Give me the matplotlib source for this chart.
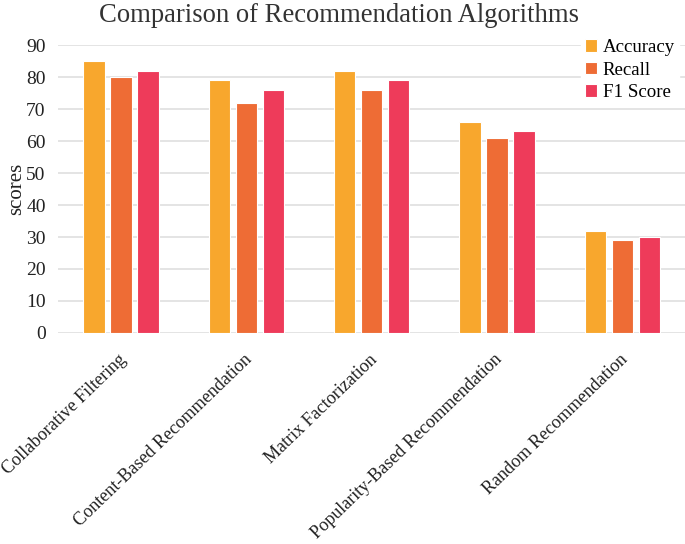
import numpy as np
import matplotlib.pyplot as plt
from matplotlib.transforms import ScaledTranslation

algorithms = ['Collaborative Filtering', 'Content-Based Recommendation',
              'Matrix Factorization', 'Popularity-Based Recommendation',
              'Random Recommendation']
accuracy = [85, 79, 82, 66, 32]
recall = [80, 72, 76, 61, 29]
f1_score = [82, 76, 79, 63, 30]
series_names = ['Accuracy', 'Recall', 'F1 Score']
colors = ['#F8A72D', '#EE6C35', '#EE3B5A']

plt.rcParams['font.family'] = ['Liberation Serif', 'DejaVu Serif']

fig = plt.figure(figsize=(6.85, 5.44), dpi=100)
ax = fig.add_axes([0.085, 0.388, 0.915, 0.529])

x = np.arange(len(algorithms))
width = 0.17
step = 0.215
for i, (vals, name) in enumerate(zip([accuracy, recall, f1_score], series_names)):
    ax.bar(x + (i - 1) * step, vals, width, color=colors[i], label=name,
           edgecolor='white', linewidth=0.8, zorder=3)

ax.set_xlim(-0.5, len(algorithms) - 0.5)
ax.set_ylim(0, 90)
ax.set_yticks(range(0, 91, 10))
ax.grid(axis='y', color='#E2E2E2', linewidth=1.3, zorder=0)
ax.set_axisbelow(True)
for s in ax.spines.values():
    s.set_visible(False)
ax.tick_params(axis='both', length=0, labelsize=14, colors='#222222')
ax.tick_params(axis='y', pad=9)
ax.tick_params(axis='x', pad=13)

ax.set_xticks(x)
ax.set_xticklabels(algorithms, rotation=44, ha='right', va='top',
                   rotation_mode='anchor', fontsize=13.1, color='#222222')
# nudge the rotated labels a bit to the left
offset = ScaledTranslation(-3 / 100, 0, fig.dpi_scale_trans)
for lab in ax.get_xticklabels():
    lab.set_transform(lab.get_transform() + offset)

ax.set_ylabel('scores', fontsize=15, labelpad=0, color='#222222')

fig.text(0.495, 0.972, 'Comparison of Recommendation Algorithms', ha='center',
         va='center', fontsize=19.2, color='#333333')

leg = ax.legend(loc='upper right', bbox_to_anchor=(0.99, 1.035), frameon=True,
                fontsize=13.6, handlelength=0.65, handleheight=0.65,
                handletextpad=0.3, labelspacing=0.3, borderpad=0.2,
                borderaxespad=0)
leg.get_frame().set_facecolor('white')
leg.get_frame().set_edgecolor('white')
leg.get_frame().set_alpha(1)

fig.savefig('out.png', dpi=100)
